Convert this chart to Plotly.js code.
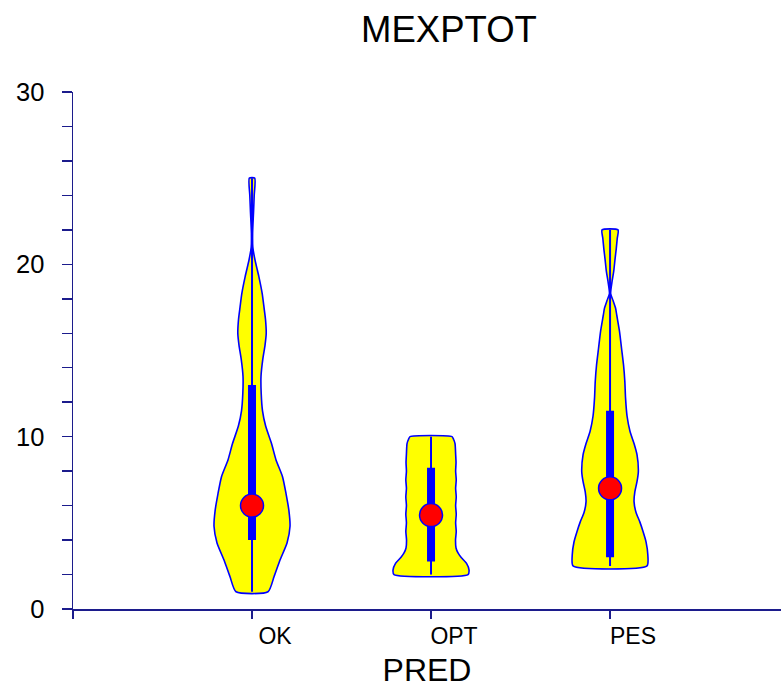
<!DOCTYPE html>
<html>
<head>
<meta charset="utf-8">
<script src="https://cdn.plot.ly/plotly-3.0.1.min.js"></script>
<style>html,body{margin:0;padding:0;background:#fff;}#chart{width:781px;height:692px;}</style>
</head>
<body>
<div id="chart"></div>
<script>
// ---- data ----
const categories = ['OK', 'OPT', 'PES'];
const tickLabels = ['', 'OK', 'OPT', 'PES'];

// density profiles: value levels and relative density (half-width)
const okLevels  = [1.0, 1.87, 2.84, 3.83, 4.8, 5.75, 6.7, 7.68, 8.65, 9.6, 10.6, 11.5, 12.5, 13.5, 14.5, 15.3, 16.0, 16.8, 17.5, 18.3, 19.3, 20.25, 21.0, 21.8, 23.0, 24.0, 25.0];
const okDensity = [16, 22, 28, 35, 38, 36.8, 34, 30.5, 24, 19.5, 13.7, 10.5, 9.2, 9.0, 10.8, 13, 14.2, 13.5, 12, 10.2, 6.8, 3.0, 0.8, 0.6, 1.5, 2.2, 2.7];

const optLevels  = [2.0, 2.26, 2.65, 3.0, 3.25, 3.54, 4.0, 4.5, 5.0, 5.5, 6.0, 6.5, 7.0, 7.5, 8.0, 8.5, 9.0, 9.6, 9.85, 10.0];
const optDensity = [37, 38, 35.5, 30, 27, 25, 24.5, 25.2, 24.6, 25.2, 24.6, 25.2, 24.6, 25.2, 24.6, 25, 24.6, 24, 22.5, 21];

const pesLevels  = [2.5, 3.13, 3.9, 4.5, 5.07, 5.6, 6.23, 6.8, 7.4, 7.97, 8.94, 9.6, 10.3, 11.2, 12.25, 13.2, 14.16, 15.13, 16.1, 17.06, 17.47, 17.9, 18.3, 19.0, 19.6, 20.3, 20.9, 21.5, 22.0];
const pesDensity = [37, 37.8, 36, 33, 29.7, 26, 24, 24.8, 27, 28.3, 27, 24, 20, 17, 15.5, 14.8, 13.5, 11.5, 9.5, 6.7, 5.5, 3.0, 0.6, 2.0, 3.7, 5.0, 6.2, 7.2, 8.0];

const minVals    = [1.0, 2.0, 2.5];
const q1Vals     = [4.0, 2.75, 3.0];
const medianVals = [6.0, 5.45, 7.0];
const q3Vals     = [13.0, 8.2, 11.5];
const maxVals    = [25.0, 10.0, 22.0];

// ---- build ----
const levels = [okLevels, optLevels, pesLevels];
const dens = [okDensity, optDensity, pesDensity];
const WIDTH_SCALE = 1 / 179;
const BLUE = '#0000FF';
const AXIS = '#1c1c8c';
const traces = [];

categories.forEach((name, i) => {
  const lv = levels[i], d = dens[i];
  const xs = [], ys = [];
  for (let k = 0; k < lv.length; k++) { xs.push(i + d[k] * WIDTH_SCALE); ys.push(lv[k]); }
  for (let k = lv.length - 1; k >= 0; k--) { xs.push(i - d[k] * WIDTH_SCALE); ys.push(lv[k]); }
  xs.push(xs[0]); ys.push(ys[0]);
  traces.push({
    type: 'scatter', mode: 'lines', x: xs, y: ys, name: name,
    fill: 'toself', fillcolor: '#FFFF00',
    line: {color: BLUE, width: 1.6, shape: 'spline', smoothing: 0.6},
    hoverinfo: 'skip', showlegend: false
  });
});
categories.forEach((name, i) => {
  traces.push({type: 'scatter', mode: 'lines', x: [i, i], y: [minVals[i], maxVals[i]],
    line: {color: BLUE, width: 2}, showlegend: false, hoverinfo: 'skip'});
  traces.push({type: 'scatter', mode: 'lines', x: [i, i], y: [q1Vals[i], q3Vals[i]],
    line: {color: BLUE, width: 8}, showlegend: false, hoverinfo: 'skip'});
  traces.push({type: 'scatter', mode: 'markers', x: [i], y: [medianVals[i]], name: name + ' median',
    marker: {color: '#FF0000', size: 23, line: {color: BLUE, width: 1.5}}, showlegend: false});
});

const layout = {
  width: 781, height: 692,
  margin: {l: 73, r: 0, t: 92, b: 83},
  paper_bgcolor: '#ffffff', plot_bgcolor: '#ffffff',
  font: {family: '"Liberation Sans", Arial, sans-serif', color: '#000'},
  title: {text: 'MEXPTOT', font: {size: 36.5, color: '#000'},
    xref: 'container', x: 449 / 781, xanchor: 'center',
    yref: 'container', y: 1 - 29 / 692, yanchor: 'middle'},
  showlegend: false,
  xaxis: {
    range: [-1, 2.955], showgrid: false, zeroline: false,
    tickmode: 'array', tickvals: [-1, 0, 1, 2], ticktext: tickLabels,
    ticks: 'outside', ticklen: 8, tickwidth: 1.5, tickcolor: AXIS,
    showline: true, linecolor: AXIS, linewidth: 1.5,
    tickfont: {size: 23, color: '#000'}, ticklabelshift: 23, ticklabelstandoff: -2,
    title: {text: 'PRED', font: {size: 32, color: '#000'}, standoff: 10}
  },
  yaxis: {
    range: [0, 30], showgrid: false, zeroline: false,
    tickmode: 'linear', tick0: 0, dtick: 10,
    ticks: 'outside', ticklen: 10, tickwidth: 1.5, tickcolor: AXIS,
    minor: {dtick: 2, ticks: 'outside', ticklen: 10, tickwidth: 1.5, tickcolor: AXIS, showgrid: false},
    showline: true, linecolor: AXIS, linewidth: 1.5,
    tickfont: {size: 25.5, color: '#000'}, ticklabelstandoff: 12
  }
};

Plotly.newPlot('chart', traces, layout, {displayModeBar: false, staticPlot: true});
</script>
</body>
</html>
